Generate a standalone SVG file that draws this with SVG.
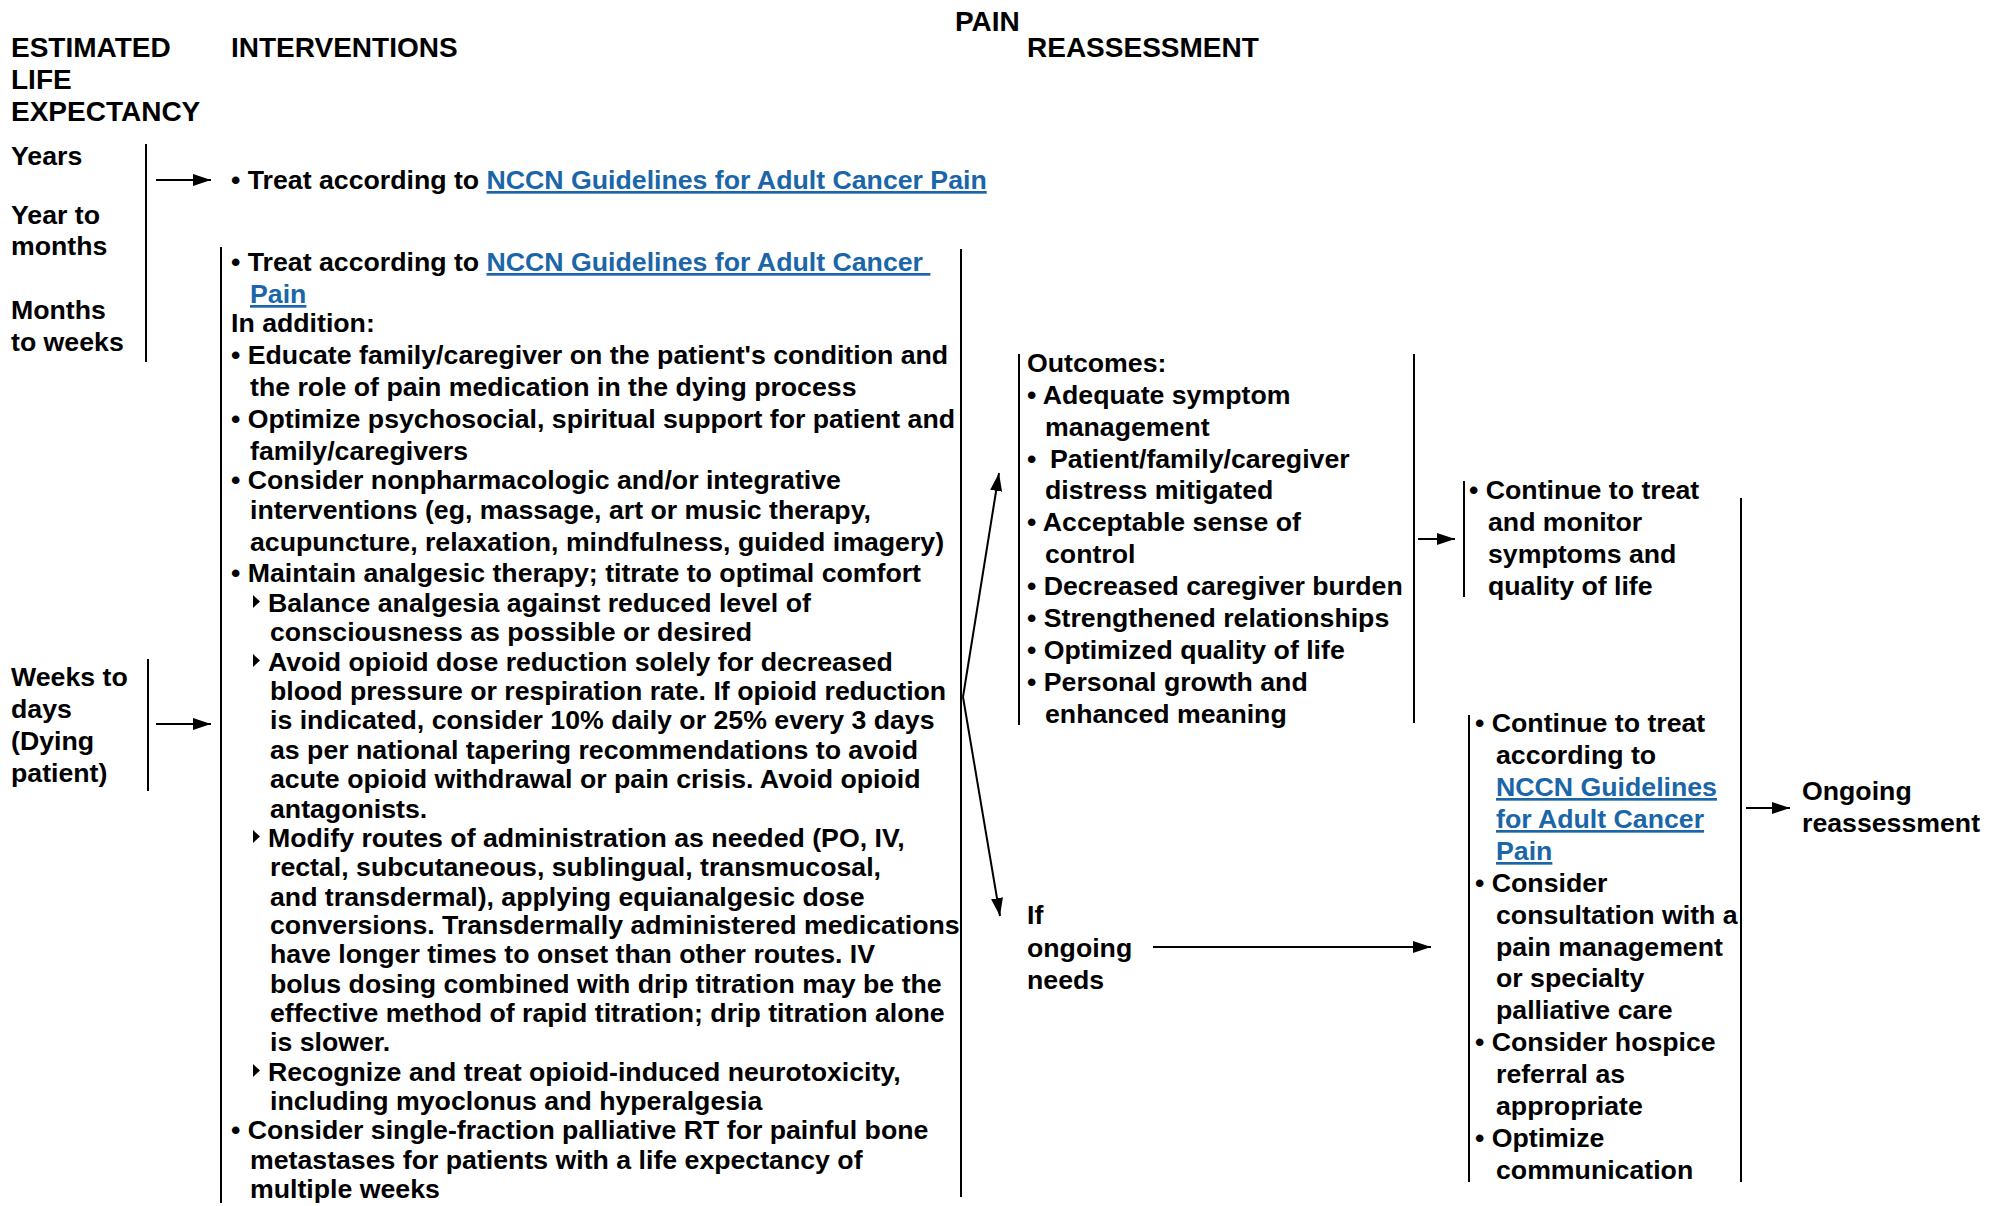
<svg xmlns="http://www.w3.org/2000/svg" width="2003" height="1206" viewBox="0 0 2003 1206">
<defs>
<style>
text{font-family:"Liberation Sans",Arial,sans-serif;font-weight:bold;font-size:26.7px;fill:#000}
.h{font-size:28px}
.lk{fill:#1a66a8;text-decoration:underline}
.ln{stroke:#000;stroke-width:2;fill:none}
.ar{stroke:#000;stroke-width:2;fill:none;marker-end:url(#ah)}
.tri{fill:#000}
</style>
<marker id="ah" markerUnits="userSpaceOnUse" viewBox="0 0 18 12" refX="18" refY="6" markerWidth="18" markerHeight="12" orient="auto">
<path d="M0,0 L18,6 L0,12 z" fill="#000"/>
</marker>
<polygon id="tr" points="0,-17 7,-10.5 0,-4"/>
</defs>
<rect width="2003" height="1206" fill="#fff"/>

<g id="headers">
<text class="h" x="955" y="31">PAIN</text>
<text class="h" x="1027" y="57">REASSESSMENT</text>
<text class="h" x="11" y="57">ESTIMATED</text>
<text class="h" x="11" y="89">LIFE</text>
<text class="h" x="11" y="121">EXPECTANCY</text>
<text class="h" x="231" y="57">INTERVENTIONS</text>
</g>

<g id="life-expectancy-long">
<text x="11" y="165">Years</text>
<text x="11" y="224">Year to</text>
<text x="11" y="255">months</text>
<text x="11" y="319">Months</text>
<text x="11" y="351">to weeks</text>
</g>

<g id="life-expectancy-dying">
<text x="11" y="686">Weeks to</text>
<text x="11" y="718">days</text>
<text x="11" y="750">(Dying</text>
<text x="11" y="782">patient)</text>
</g>

<g id="treat-years">
<text x="231" y="189">• Treat according to <tspan class="lk">NCCN Guidelines for Adult Cancer Pain</tspan></text>
</g>

<g id="interventions-dying">
<text x="231" y="271">• Treat according to <tspan class="lk">NCCN Guidelines for Adult Cancer&#160;</tspan></text>
<text x="250" y="303" class="lk">Pain</text>
<text x="231" y="332">In addition:</text>
<text x="231" y="364">• Educate family/caregiver on the patient's condition and</text>
<text x="250" y="396">the role of pain medication in the dying process</text>
<text x="231" y="428">• Optimize psychosocial, spiritual support for patient and</text>
<text x="250" y="460">family/caregivers</text>
<text x="231" y="489">• Consider nonpharmacologic and/or integrative</text>
<text x="250" y="519">interventions (eg, massage, art or music therapy,</text>
<text x="250" y="551">acupuncture, relaxation, mindfulness, guided imagery)</text>
<text x="231" y="582">• Maintain analgesic therapy; titrate to optimal comfort</text>
<use href="#tr" x="253" y="612" class="tri"/>
<text x="268" y="612">Balance analgesia against reduced level of</text>
<text x="270" y="641">consciousness as possible or desired</text>
<use href="#tr" x="253" y="671" class="tri"/>
<text x="268" y="671">Avoid opioid dose reduction solely for decreased</text>
<text x="270" y="700">blood pressure or respiration rate. If opioid reduction</text>
<text x="270" y="729">is indicated, consider 10% daily or 25% every 3 days</text>
<text x="270" y="759">as per national tapering recommendations to avoid</text>
<text x="270" y="788">acute opioid withdrawal or pain crisis. Avoid opioid</text>
<text x="270" y="818">antagonists.</text>
<use href="#tr" x="253" y="847" class="tri"/>
<text x="268" y="847">Modify routes of administration as needed (PO, IV,</text>
<text x="270" y="876">rectal, subcutaneous, sublingual, transmucosal,</text>
<text x="270" y="906">and transdermal), applying equianalgesic dose</text>
<text x="270" y="934">conversions. Transdermally administered medications</text>
<text x="270" y="963">have longer times to onset than other routes. IV</text>
<text x="270" y="993">bolus dosing combined with drip titration may be the</text>
<text x="270" y="1022">effective method of rapid titration; drip titration alone</text>
<text x="270" y="1051">is slower.</text>
<use href="#tr" x="253" y="1081" class="tri"/>
<text x="268" y="1081">Recognize and treat opioid-induced neurotoxicity,</text>
<text x="270" y="1110">including myoclonus and hyperalgesia</text>
<text x="231" y="1139">• Consider single-fraction palliative RT for painful bone</text>
<text x="250" y="1169">metastases for patients with a life expectancy of</text>
<text x="250" y="1198">multiple weeks</text>
</g>

<g id="outcomes">
<text x="1027" y="372">Outcomes:</text>
<text x="1027" y="404">• Adequate symptom</text>
<text x="1045" y="436">management</text>
<text x="1027" y="468">•<tspan x="1050">Patient/family/caregiver</tspan></text>
<text x="1045" y="499">distress mitigated</text>
<text x="1027" y="531">• Acceptable sense of</text>
<text x="1045" y="563">control</text>
<text x="1027" y="595">• Decreased caregiver burden</text>
<text x="1027" y="627">• Strengthened relationships</text>
<text x="1027" y="659">• Optimized quality of life</text>
<text x="1027" y="691">• Personal growth and</text>
<text x="1045" y="723">enhanced meaning</text>
</g>

<g id="continue-monitor">
<text x="1469" y="499">• Continue to treat</text>
<text x="1488" y="531">and monitor</text>
<text x="1488" y="563">symptoms and</text>
<text x="1488" y="595">quality of life</text>
</g>

<g id="ongoing-needs">
<text x="1027" y="924">If</text>
<text x="1027" y="957">ongoing</text>
<text x="1027" y="989">needs</text>
</g>

<g id="continue-consult">
<text x="1475" y="732">• Continue to treat</text>
<text x="1496" y="764">according to</text>
<text x="1496" y="796" class="lk">NCCN Guidelines</text>
<text x="1496" y="828" class="lk">for Adult Cancer</text>
<text x="1496" y="860" class="lk">Pain</text>
<text x="1475" y="892">• Consider</text>
<text x="1496" y="924">consultation with a</text>
<text x="1496" y="956">pain management</text>
<text x="1496" y="987">or specialty</text>
<text x="1496" y="1019">palliative care</text>
<text x="1475" y="1051">• Consider hospice</text>
<text x="1496" y="1083">referral as</text>
<text x="1496" y="1115">appropriate</text>
<text x="1475" y="1147">• Optimize</text>
<text x="1496" y="1179">communication</text>
</g>

<g id="ongoing-reassessment">
<text x="1802" y="800">Ongoing</text>
<text x="1802" y="832">reassessment</text>
</g>

<g id="connectors">
<line class="ln" x1="146" y1="144" x2="146" y2="362"/>
<line class="ln" x1="148" y1="659" x2="148" y2="791"/>
<line class="ar" x1="156" y1="180" x2="211" y2="180"/>
<line class="ar" x1="156" y1="724" x2="211" y2="724"/>
<line class="ln" x1="221" y1="247" x2="221" y2="1203"/>
<line class="ln" x1="961" y1="249" x2="961" y2="1197"/>
<line class="ar" x1="963" y1="697" x2="999" y2="473"/>
<line class="ar" x1="963" y1="697" x2="1000" y2="916"/>
<line class="ln" x1="1019" y1="354" x2="1019" y2="725"/>
<line class="ln" x1="1414" y1="354" x2="1414" y2="723"/>
<line class="ar" x1="1418" y1="539" x2="1455" y2="539"/>
<line class="ln" x1="1464" y1="481" x2="1464" y2="597"/>
<line class="ln" x1="1741" y1="498" x2="1741" y2="1182"/>
<line class="ar" x1="1153" y1="947" x2="1431" y2="947"/>
<line class="ln" x1="1469" y1="715" x2="1469" y2="1182"/>
<line class="ar" x1="1746" y1="808" x2="1790" y2="808"/>
</g>
</svg>
